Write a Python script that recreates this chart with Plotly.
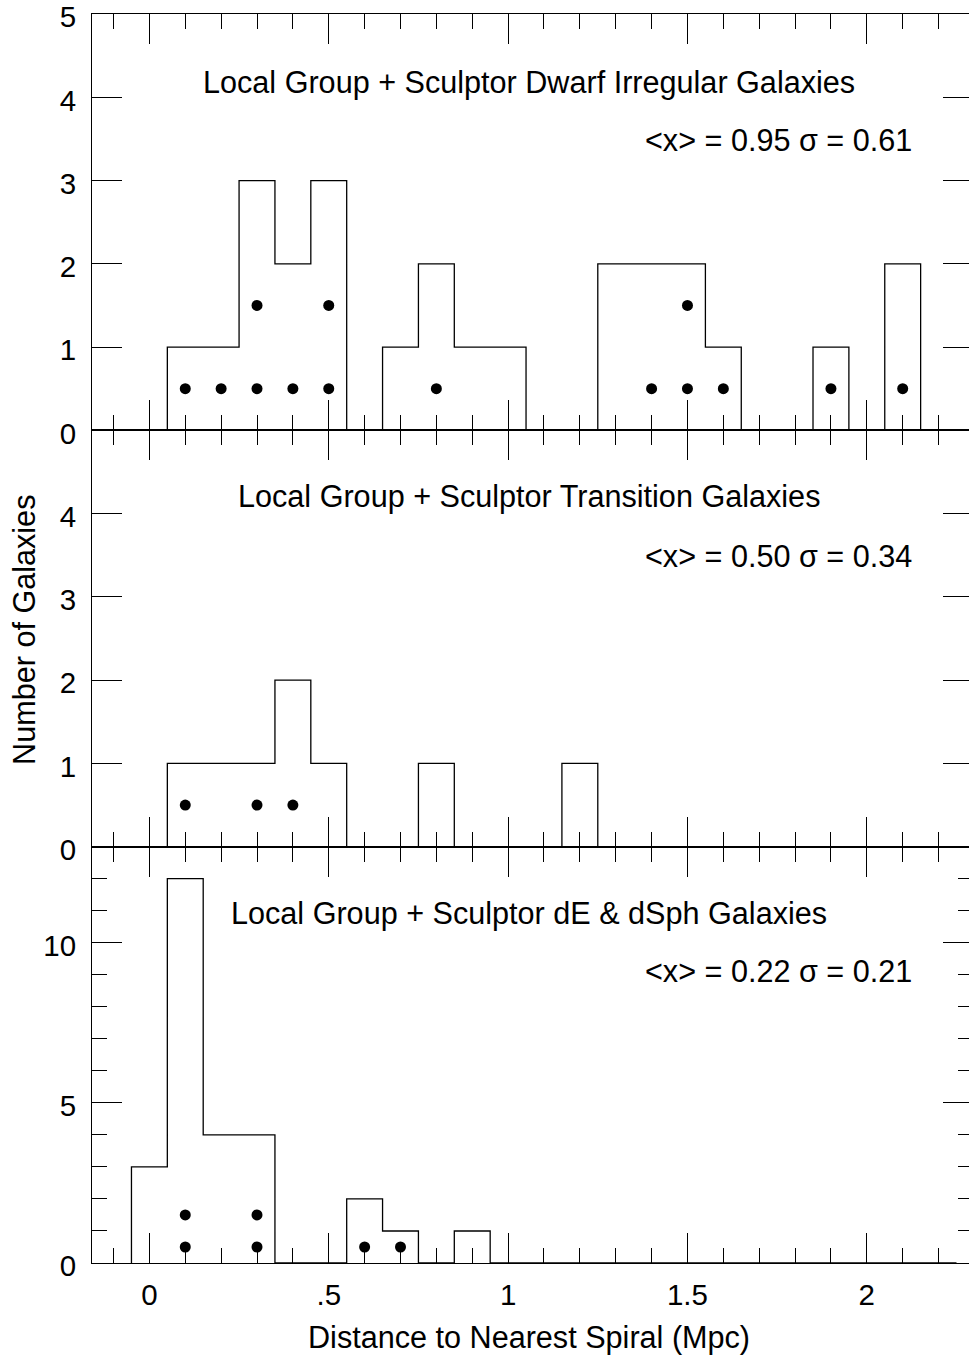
import plotly.graph_objects as go
from plotly.subplots import make_subplots

# Histogram bins (Mpc), width 0.1
BIN_CENTERS = [0.0, 0.1, 0.2, 0.3, 0.4, 0.5, 0.6, 0.7, 0.8, 0.9, 1.0, 1.1,
               1.2, 1.3, 1.4, 1.5, 1.6, 1.7, 1.8, 1.9, 2.0, 2.1, 2.2]
BIN_WIDTH = 0.1

# Galaxy counts per bin for each morphological class
DIRR_COUNTS = [0, 1, 1, 3, 2, 3, 0, 1, 2, 1, 1, 0,
               0, 2, 2, 2, 1, 0, 0, 1, 0, 2, 0]
TRANS_COUNTS = [0, 1, 1, 1, 2, 1, 0, 0, 1, 0, 0, 0,
                1, 0, 0, 0, 0, 0, 0, 0, 0, 0, 0]
DSPH_COUNTS = [3, 12, 4, 4, 0, 0, 2, 1, 0, 1, 0, 0,
               0, 0, 0, 0, 0, 0, 0, 0, 0, 0, 0]

# Sculptor group members marked with dots
DIRR_DOT_X = [0.1, 0.2, 0.3, 0.4, 0.5, 0.3, 0.5, 0.8, 1.4, 1.5, 1.6, 1.5, 1.9, 2.1]
DIRR_DOT_Y = [0.5, 0.5, 0.5, 0.5, 0.5, 1.5, 1.5, 0.5, 0.5, 0.5, 0.5, 1.5, 0.5, 0.5]
TRANS_DOT_X = [0.1, 0.3, 0.4]
TRANS_DOT_Y = [0.5, 0.5, 0.5]
DSPH_DOT_X = [0.1, 0.1, 0.3, 0.3, 0.6, 0.7]
DSPH_DOT_Y = [0.5, 1.5, 0.5, 1.5, 0.5, 0.5]

PANEL_TITLES = [
    "Local Group + Sculptor Dwarf Irregular Galaxies",
    "Local Group + Sculptor Transition Galaxies",
    "Local Group + Sculptor dE & dSph Galaxies",
]
PANEL_MEANS = [0.95, 0.50, 0.22]
PANEL_SIGMAS = [0.61, 0.34, 0.21]

X_LABEL = "Distance to Nearest Spiral (Mpc)"
Y_LABEL = "Number of Galaxies"

FONT = "Liberation Sans, Arial, Helvetica, sans-serif"
INK = "black"
TEXT_SIZE = 30.6


def step_outline(centers, counts, width):
    """Outline of a histogram as a horizontal-then-vertical step path."""
    edges = [c - width / 2 for c in centers] + [centers[-1] + width / 2]
    xs = [edges[0]] + edges
    ys = [0] + list(counts) + [0]
    return xs, ys


fig = make_subplots(rows=3, cols=1, shared_xaxes=True, vertical_spacing=0)

panels = [
    (DIRR_COUNTS, DIRR_DOT_X, DIRR_DOT_Y),
    (TRANS_COUNTS, TRANS_DOT_X, TRANS_DOT_Y),
    (DSPH_COUNTS, DSPH_DOT_X, DSPH_DOT_Y),
]

for row, (counts, dx, dy) in enumerate(panels, start=1):
    hx, hy = step_outline(BIN_CENTERS, counts, BIN_WIDTH)
    fig.add_trace(
        go.Scatter(x=hx, y=hy, mode="lines", line_shape="hv",
                   line=dict(color=INK, width=1.3), hoverinfo="skip"),
        row=row, col=1,
    )
    fig.add_trace(
        go.Scatter(x=dx, y=dy, mode="markers",
                   marker=dict(color=INK, size=11, line=dict(width=0))),
        row=row, col=1,
    )

axis_common = dict(
    showline=True, linecolor=INK, linewidth=1, mirror="ticks",
    ticks="inside", tickcolor=INK, tickwidth=1, ticklen=30,
    showgrid=False, zeroline=False, ticklabeloverflow="allow",
    automargin=False,
    tickfont=dict(family=FONT, size=29.5, color=INK),
)

x_range = [-0.16, 2.296]
for row in (1, 2, 3):
    fig.update_xaxes(
        range=x_range, tickmode="linear", tick0=0, dtick=0.5,
        minor=dict(ticks="inside", ticklen=15, tickcolor=INK, tickwidth=1,
                   dtick=0.1, tick0=0, showgrid=False),
        showticklabels=(row == 3),
        labelalias={"0.5": ".5"},
        ticklabelstandoff=6,
        row=row, col=1, **axis_common,
    )

y_label_style = dict(ticklabelstandoff=9, ticklabelshift=3)
fig.update_yaxes(range=[0, 5], tickmode="array", tickvals=[0, 1, 2, 3, 4, 5],
                 row=1, col=1, **y_label_style, **axis_common)
fig.update_yaxes(range=[0, 5], tickmode="array", tickvals=[0, 1, 2, 3, 4],
                 row=2, col=1, **y_label_style, **axis_common)
fig.update_yaxes(range=[0, 13], tickmode="linear", tick0=0, dtick=5,
                 minor=dict(ticks="inside", ticklen=15, tickcolor=INK, tickwidth=1,
                            dtick=1, tick0=0, showgrid=False),
                 row=3, col=1, **y_label_style, **axis_common)

# Panel captions and summary statistics
title_y = [4.18, 4.20, 10.90]
stats_y = [3.49, 3.49, 9.13]
yrefs = ["y", "y2", "y3"]
for i in range(3):
    fig.add_annotation(
        x=1.058, y=title_y[i], xref="x", yref=yrefs[i],
        text=PANEL_TITLES[i].replace("&", "&amp;"), showarrow=False,
        xanchor="center", yanchor="middle",
        font=dict(family=FONT, size=TEXT_SIZE, color=INK),
    )
    fig.add_annotation(
        x=2.132, y=stats_y[i], xref="x", yref=yrefs[i],
        text=f"&lt;x&gt; = {PANEL_MEANS[i]:.2f} σ = {PANEL_SIGMAS[i]:.2f}",
        showarrow=False, xanchor="right", yanchor="middle",
        font=dict(family=FONT, size=TEXT_SIZE, color=INK),
    )

# Axis titles
fig.add_annotation(
    x=1.058, y=-0.06, xref="x", yref="paper", text=X_LABEL, showarrow=False,
    xanchor="center", yanchor="middle",
    font=dict(family=FONT, size=TEXT_SIZE, color=INK),
)
fig.add_annotation(
    x=-0.077, y=0.507, xref="paper", yref="paper", text=Y_LABEL, showarrow=False,
    textangle=-90, xanchor="center", yanchor="middle",
    font=dict(family=FONT, size=TEXT_SIZE, color=INK),
)

fig.update_layout(
    width=973, height=1357,
    margin=dict(l=92, r=0, t=14, b=94, autoexpand=False),
    plot_bgcolor="white", paper_bgcolor="white",
    showlegend=False,
    font=dict(family=FONT, size=TEXT_SIZE, color=INK),
)

fig.write_html("out.html", post_script="document.body.style.overflow='hidden';")
